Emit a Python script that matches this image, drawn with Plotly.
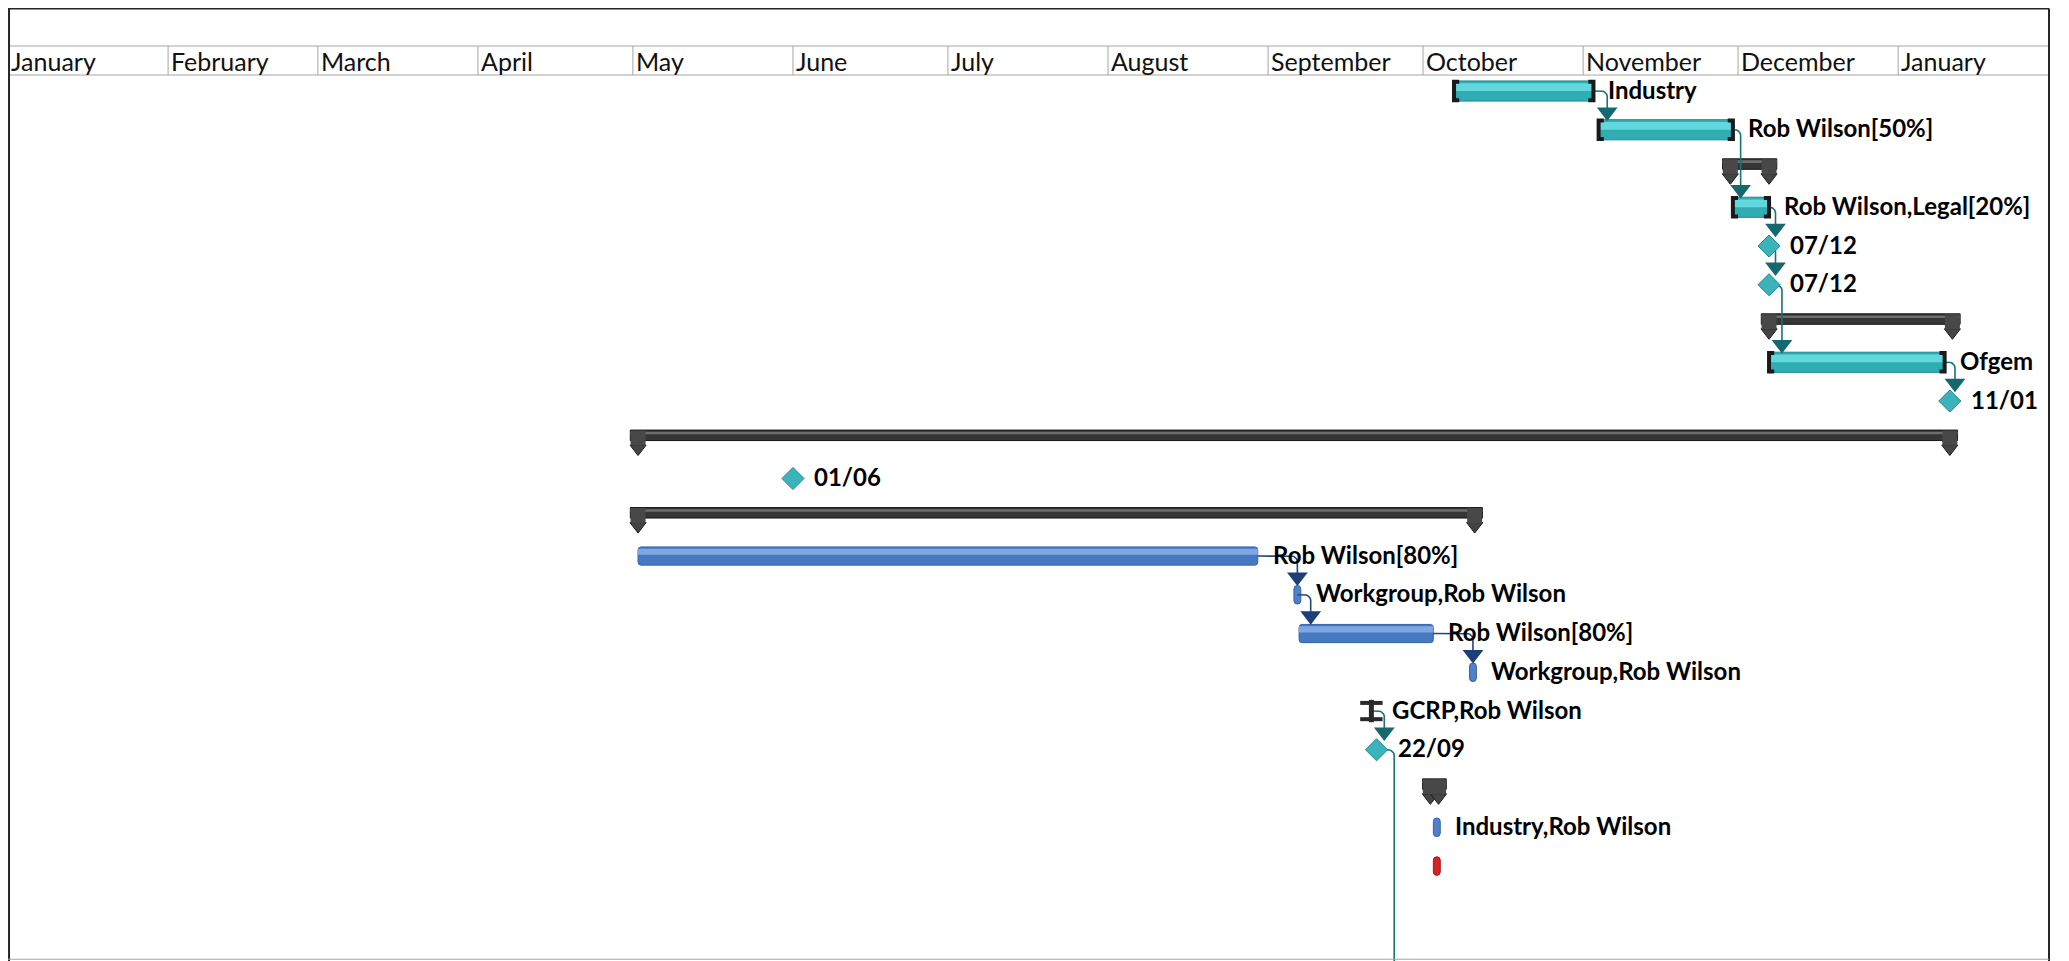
import math
import pandas as pd
import plotly.graph_objects as go

# timeline header
months = ["January", "February", "March", "April", "May", "June", "July",
          "August", "September", "October", "November", "December", "January"]
month_starts = ["2008-01-01", "2008-02-01", "2008-03-01", "2008-04-01", "2008-05-01",
                "2008-06-01", "2008-07-01", "2008-08-01", "2008-09-01", "2008-10-01",
                "2008-11-01", "2008-12-01", "2009-01-01"]

# critical (teal) tasks
teal_rows = [1, 2, 4, 8]
teal_start = ["2008-10-07", "2008-11-04", "2008-11-30", "2008-12-07"]
teal_end = ["2008-11-03", "2008-11-30", "2008-12-07", "2009-01-10"]
teal_labels = ["Industry", "Rob Wilson[50%]", "Rob Wilson,Legal[20%]", "Ofgem"]

# normal (blue) tasks
blue_rows = [13, 15]
blue_start = ["2008-05-02", "2008-09-07"]
blue_end = ["2008-08-30", "2008-10-03"]
blue_labels = ["Rob Wilson[80%]", "Rob Wilson[80%]"]

# one-day tasks
pill_rows = [14, 16, 20]
pill_start = ["2008-09-06", "2008-10-10", "2008-10-03"]
pill_end = ["2008-09-07 08:00", "2008-10-11 08:00", "2008-10-04 08:00"]
pill_labels = ["Workgroup,Rob Wilson", "Workgroup,Rob Wilson", "Industry,Rob Wilson"]

red_rows = [21]
red_start = ["2008-10-03"]
red_end = ["2008-10-04 08:00"]

# summary tasks
summary_rows = [3, 7, 10, 12, 19]
summary_start = ["2008-11-29 12:00", "2008-12-07", "2008-05-02", "2008-05-02", "2008-10-02 10:00"]
summary_end = ["2008-12-07", "2009-01-11 12:00", "2009-01-11", "2008-10-11", "2008-10-04"]

# milestones
milestone_rows = [5, 6, 9, 11, 18]
milestone_dates = ["2008-12-07", "2008-12-07", "2009-01-11", "2008-06-01", "2008-09-22"]
milestone_labels = ["07/12", "07/12", "11/01", "01/06", "22/09"]

gcrp_rows = [17]
gcrp_dates = ["2008-09-21"]
gcrp_labels = ["GCRP,Rob Wilson"]

# dependency links: from (date,row) to arrow (date,row)
teal_link_from = ["2008-10-08 18:00", "2008-11-03", "2008-11-30", "2008-12-07", "2008-12-07",
                  "2008-12-07", "2009-01-10", "2008-09-21", "2008-09-22"]
teal_link_from_row = [0, 1, 2, 4, 5, 6, 8, 17, 18]
teal_link_to = ["2008-10-08 18:00", "2008-11-05 16:00", "2008-12-01 12:00", "2008-12-08 06:00",
                "2008-12-08 06:00", "2008-12-09 12:00", "2009-01-12", "2008-09-23 12:00",
                "2008-09-25 10:00"]
teal_link_to_row = [1, 2, 4, 5, 6, 8, 9, 18, 24]

blue_link_from = ["2008-08-30", "2008-09-06 16:00", "2008-10-03"]
blue_link_from_row = [13, 14, 15]
blue_link_to = ["2008-09-06 16:00", "2008-09-09 06:00", "2008-10-10 16:00"]
blue_link_to_row = [14, 15, 16]

TEAL_LINE = "#1a7378"
BLUE_LINE = "#24467f"
LABEL_FONT = dict(family="Lato", size=24, color="#000000")
ARROW_OFF = 0.46


def ms(starts, ends):
    return [(pd.Timestamp(e) - pd.Timestamp(s)).total_seconds() * 1000 for s, e in zip(starts, ends)]


def link_paths(froms, from_rows, tos, to_rows):
    xs, ys = [], []
    r = pd.Timedelta(hours=28)
    dy = 0.15
    for x0, y0, x1, y1 in zip(froms, from_rows, tos, to_rows):
        x0, x1 = pd.Timestamp(x0), pd.Timestamp(x1)
        yt = y1 - ARROW_OFF
        if x1 - x0 < pd.Timedelta(hours=2):
            xs += [x0, x1, None]
            ys += [y0, yt, None]
            continue
        xs.append(x0)
        ys.append(y0)
        for k in range(7):
            t = k / 6 * math.pi / 2
            xs.append(x1 - r + r * math.sin(t))
            ys.append(y0 + dy - dy * math.cos(t))
        xs += [x1, None]
        ys += [yt, None]
    return xs, ys


fig = go.Figure()

# teal bars with highlight
fig.add_trace(go.Bar(orientation="h", y=teal_rows, base=teal_start, x=ms(teal_start, teal_end),
                     width=0.52, marker=dict(color="#2fadb3", line=dict(color="#1e8c92", width=1)),
                     hoverinfo="skip"))
fig.add_trace(go.Bar(orientation="h", y=teal_rows, base=teal_start, x=ms(teal_start, teal_end),
                     width=0.2, offset=-0.2, marker=dict(color="#62d8de", line=dict(width=0)),
                     hoverinfo="skip"))

# blue bars
fig.add_trace(go.Bar(orientation="h", y=blue_rows, base=blue_start, x=ms(blue_start, blue_end),
                     width=0.47, marker=dict(color="#4779c3", cornerradius=3,
                                             line=dict(color="#3563ab", width=1)),
                     hoverinfo="skip"))
fig.add_trace(go.Bar(orientation="h", y=blue_rows, base=blue_start, x=ms(blue_start, blue_end),
                     width=0.16, offset=-0.19, marker=dict(color="#7fa8e3", line=dict(width=0)),
                     hoverinfo="skip"))

# one-day pills
fig.add_trace(go.Bar(orientation="h", y=pill_rows, base=pill_start, x=ms(pill_start, pill_end),
                     width=0.48, marker=dict(color="#4f80c9", cornerradius=4,
                                             line=dict(color="#3563ab", width=1)),
                     hoverinfo="skip"))
fig.add_trace(go.Bar(orientation="h", y=red_rows, base=red_start, x=ms(red_start, red_end),
                     width=0.48, marker=dict(color="#d02626", cornerradius=4,
                                             line=dict(color="#a01818", width=1)),
                     hoverinfo="skip"))

# summary bars
pad = pd.Timedelta(hours=36)
sum_base = [pd.Timestamp(s) - pad for s in summary_start]
sum_stop = [pd.Timestamp(e) + pad for e in summary_end]
fig.add_trace(go.Bar(orientation="h", y=summary_rows, base=sum_base, x=ms(sum_base, sum_stop),
                     width=0.27, offset=-0.25,
                     marker=dict(color="#363636", line=dict(color="#151515", width=1)),
                     hoverinfo="skip"))
fig.add_trace(go.Bar(orientation="h", y=summary_rows, base=sum_base, x=ms(sum_base, sum_stop),
                     width=0.07, offset=-0.21, marker=dict(color="#6e6e6e", line=dict(width=0)),
                     hoverinfo="skip"))

# dependency lines
tx, ty = link_paths(teal_link_from, teal_link_from_row, teal_link_to, teal_link_to_row)
fig.add_trace(go.Scatter(x=tx, y=ty, mode="lines", line=dict(color=TEAL_LINE, width=1.6),
                         hoverinfo="skip"))
bx, by = link_paths(blue_link_from, blue_link_from_row, blue_link_to, blue_link_to_row)
fig.add_trace(go.Scatter(x=bx, y=by, mode="lines", line=dict(color=BLUE_LINE, width=1.6),
                         hoverinfo="skip"))

# teal bar end brackets
arm = pd.Timedelta(hours=24)
kx, ky = [], []
for r, s, e in zip(teal_rows, teal_start, teal_end):
    s, e = pd.Timestamp(s), pd.Timestamp(e)
    kx += [s + arm, s, s, s + arm, None, e - arm, e, e, e - arm, None]
    ky += [r - 0.24, r - 0.24, r + 0.24, r + 0.24, None, r - 0.24, r - 0.24, r + 0.24, r + 0.24, None]
fig.add_trace(go.Scatter(x=kx, y=ky, mode="lines", line=dict(color="#1a1a1a", width=4),
                         hoverinfo="skip"))

# summary end caps (shield: square over a down-pointing triangle)
cap_x = summary_start + summary_end
cap_rows = summary_rows + summary_rows
fig.add_trace(go.Scatter(x=cap_x, y=[r + 0.227 for r in cap_rows], mode="markers",
                         marker=dict(symbol="triangle-down", size=14, color="#444444",
                                     line=dict(color="#1c1c1c", width=1)),
                         hoverinfo="skip"))
fig.add_trace(go.Scatter(x=cap_x, y=[r - 0.044 for r in cap_rows], mode="markers",
                         marker=dict(symbol="square", size=15, color="#484848",
                                     line=dict(color="#484848", width=0)),
                         hoverinfo="skip"))

# GCRP I-beam
fig.add_trace(go.Scatter(x=gcrp_dates * 2, y=[r - 0.21 for r in gcrp_rows] + [r + 0.21 for r in gcrp_rows],
                         mode="markers", marker=dict(symbol="line-ew", size=16,
                                                     line=dict(color="#2a2a2a", width=4)),
                         hoverinfo="skip"))
fig.add_trace(go.Scatter(x=gcrp_dates, y=gcrp_rows, mode="markers",
                         marker=dict(symbol="line-ns", size=16, line=dict(color="#2a2a2a", width=5)),
                         hoverinfo="skip"))

# milestones
fig.add_trace(go.Scatter(x=milestone_dates, y=milestone_rows, mode="markers",
                         marker=dict(symbol="diamond", size=17, color="#3ab4ba",
                                     line=dict(color="#23868c", width=1)),
                         hoverinfo="skip"))

# arrow heads
fig.add_trace(go.Scatter(x=teal_link_to, y=[r - ARROW_OFF for r in teal_link_to_row], mode="markers",
                         marker=dict(symbol="triangle-down", size=18, color="#15686d"),
                         cliponaxis=False, hoverinfo="skip"))
fig.add_trace(go.Scatter(x=blue_link_to, y=[r - ARROW_OFF for r in blue_link_to_row], mode="markers",
                         marker=dict(symbol="triangle-down", size=18, color="#1c3f7a"),
                         cliponaxis=False, hoverinfo="skip"))

# labels
annotations = []
for r, e, t in zip(teal_rows + blue_rows + pill_rows, teal_end + blue_end + pill_end,
                   teal_labels + blue_labels + pill_labels):
    annotations.append(dict(x=e, y=r, text=f"<b>{t}</b>", showarrow=False, xanchor="left",
                            xshift=13, yshift=2, font=LABEL_FONT))
for r, d, t in zip(milestone_rows + gcrp_rows, milestone_dates + gcrp_dates,
                   milestone_labels + gcrp_labels):
    annotations.append(dict(x=d, y=r, text=f"<b>{t}</b>", showarrow=False, xanchor="left",
                            xshift=19, yshift=2, font=LABEL_FONT))

# month header (page body adds an 8px offset, so the figure starts at page x/y = 8)
TOP = 1 + 66.5 / 886
MID = 1 + 29 / 886
for m, d in zip(months, month_starts):
    annotations.append(dict(x=d, y=(1 + MID) / 2, xref="x", yref="paper", text=m, showarrow=False,
                            xanchor="left", yanchor="middle", xshift=1, yshift=-1,
                            font=dict(family="Lato", size=25, color="#111111")))

shapes = []
for d in month_starts[1:]:
    shapes.append(dict(type="line", xref="x", yref="paper", x0=d, x1=d, y0=1, y1=MID,
                       line=dict(color="#a6a6a6", width=1)))
shapes += [
    dict(type="line", xref="paper", yref="paper", x0=0, x1=1, y0=MID, y1=MID,
         line=dict(color="#a6a6a6", width=1)),
    dict(type="line", xref="paper", yref="paper", x0=0, x1=1, y0=1, y1=1,
         line=dict(color="#a6a6a6", width=1)),
    dict(type="line", xref="paper", yref="paper", x0=0, x1=1, y0=TOP, y1=TOP,
         line=dict(color="#262626", width=2)),
    dict(type="line", xref="paper", yref="paper", x0=0.0005, x1=0.0005, y0=0, y1=TOP,
         line=dict(color="#262626", width=2)),
    dict(type="line", xref="paper", yref="paper", x0=1, x1=1, y0=0, y1=TOP,
         line=dict(color="#262626", width=2)),
    dict(type="line", xref="paper", yref="paper", x0=0, x1=1, y0=0.002, y1=0.002,
         line=dict(color="#a6a6a6", width=1)),
]

fig.update_layout(
    width=2061,
    height=953,
    margin=dict(l=0, r=20, t=67, b=0),
    paper_bgcolor="white",
    plot_bgcolor="white",
    barmode="overlay",
    showlegend=False,
    hovermode=False,
    xaxis=dict(type="date", range=["2008-01-01", "2009-01-30 05:00"], showgrid=False,
               zeroline=False, showticklabels=False, ticks=""),
    yaxis=dict(range=[23.45, 0.587], showgrid=False, zeroline=False, showticklabels=False),
    annotations=annotations,
    shapes=shapes,
)

fig.write_html("out.html")
